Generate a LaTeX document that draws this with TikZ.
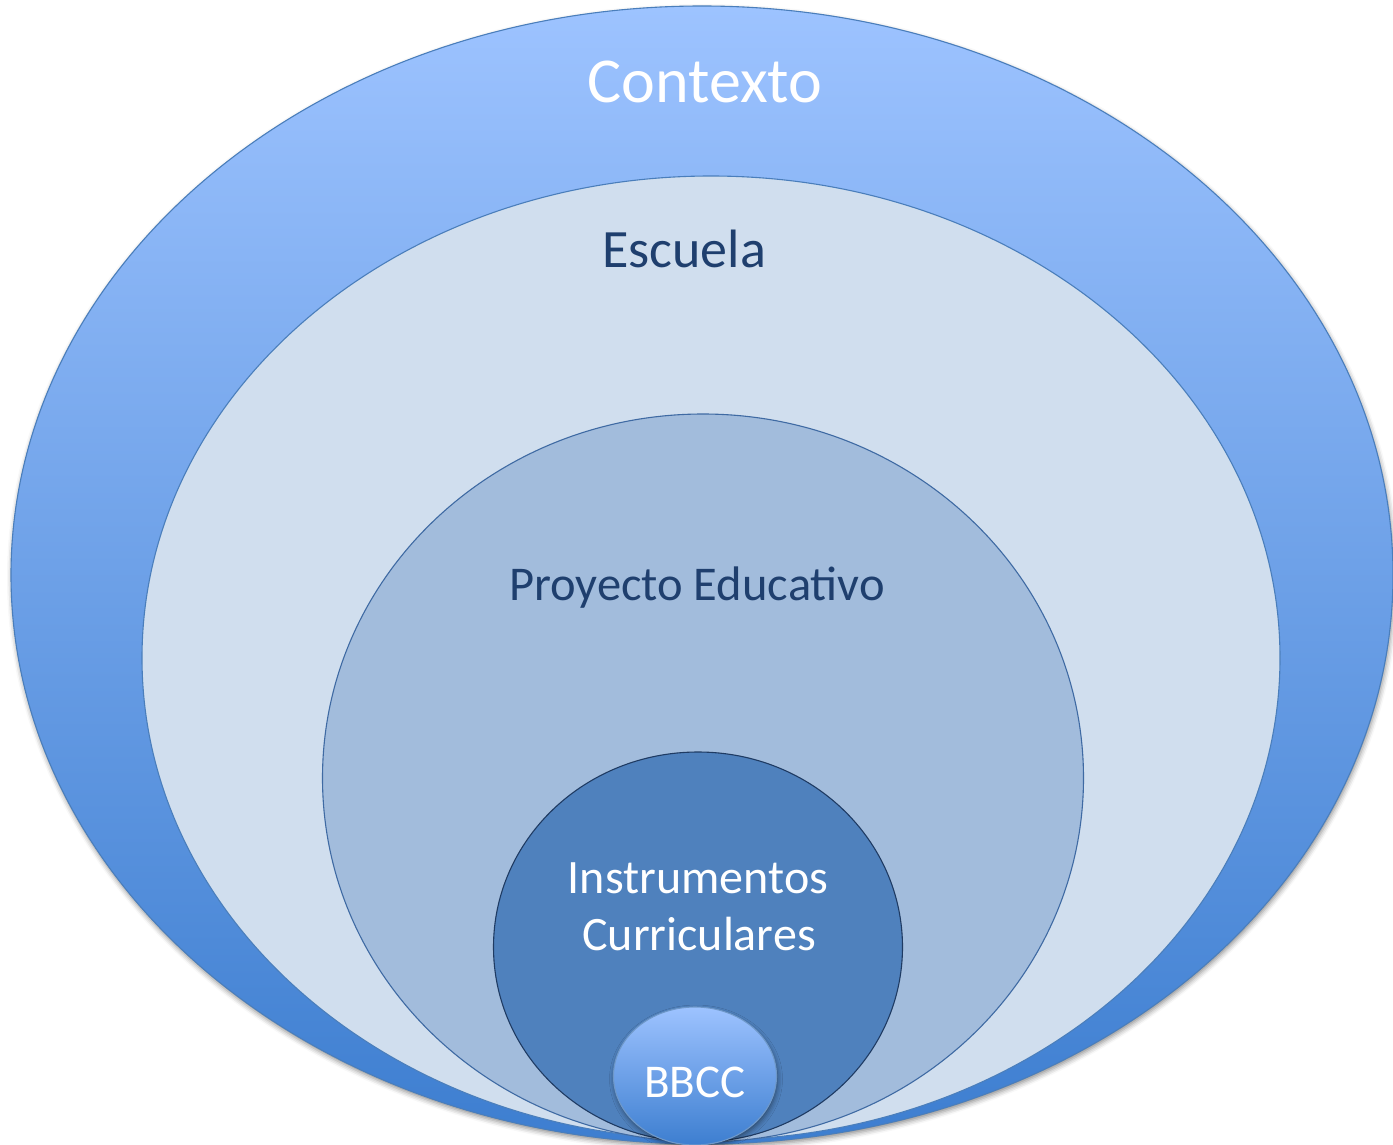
\documentclass[tikz,border=0pt]{standalone}
\usepackage{fontspec}
\setmainfont{Carlito}
\usetikzlibrary{shapes.geometric,shadows.blur}
\definecolor{ctxTop}{HTML}{9DC3FF}
\definecolor{ctxBot}{HTML}{3D7ED0}
\definecolor{ctxLine}{HTML}{4A7EBB}
\definecolor{escFill}{HTML}{D0DEEE}
\definecolor{proFill}{HTML}{A2BCDC}
\definecolor{proLine}{HTML}{3F6AA3}
\definecolor{insFill}{HTML}{4F81BD}
\definecolor{insLine}{HTML}{1F3B63}
\definecolor{navyText}{HTML}{1F3F6E}
\tikzset{
  ring/.style={ellipse, inner sep=0pt, outer sep=0pt, line width=1.1pt},
  softshadow/.style={blur shadow={shadow xshift=1pt, shadow yshift=-3pt, shadow blur radius=5pt, shadow opacity=45}},
  lighttext/.style={text=white, align=center, inner sep=0pt},
  darktext/.style={text=navyText, align=center, inner sep=0pt},
}
\begin{document}
\begin{tikzpicture}[x=1pt,y=-1pt]
\useasboundingbox (0,0) rectangle (1393,1145);
\node[ring, softshadow, draw=ctxLine, top color=ctxTop, bottom color=ctxBot,
      minimum width=1382pt, minimum height=1138pt] (ctx) at (702,575) {};
\node[ring, draw=ctxLine, fill=escFill, minimum width=1138pt, minimum height=964pt] (esc) at (711,658) {};
\node[ring, draw=proLine, fill=proFill, minimum width=761pt, minimum height=728pt] (pro) at (703,778) {};
\node[ring, draw=insLine, fill=insFill, minimum width=409pt, minimum height=390pt] (ins) at (698,947) {};
\node[ring, softshadow, draw=ctxLine!80, top color=ctxTop, bottom color=ctxBot,
      minimum width=163pt, minimum height=138pt] (bbcc) at (695,1076) {};
\node[lighttext, anchor=base, font=\fontsize{64}{64}\selectfont] (tctx) at (705,103) {Contexto};
\node[darktext, anchor=base, font=\fontsize{54}{54}\selectfont] (tesc) at (684,267) {Escuela};
\node[darktext, anchor=base, font=\fontsize{48.5}{48.5}\selectfont] (tpro) at (697,600) {Proyecto Educativo};
\node[lighttext, anchor=base, font=\fontsize{48}{57}\selectfont] (tins) at (698,893) {Instrumentos};
\node[lighttext, anchor=base, font=\fontsize{48}{57}\selectfont] (tcur) at (699,950) {Curriculares};
\node[lighttext, anchor=base, font=\fontsize{47}{47}\selectfont] (tbb) at (695,1097) {BBCC};
\end{tikzpicture}
\end{document}
